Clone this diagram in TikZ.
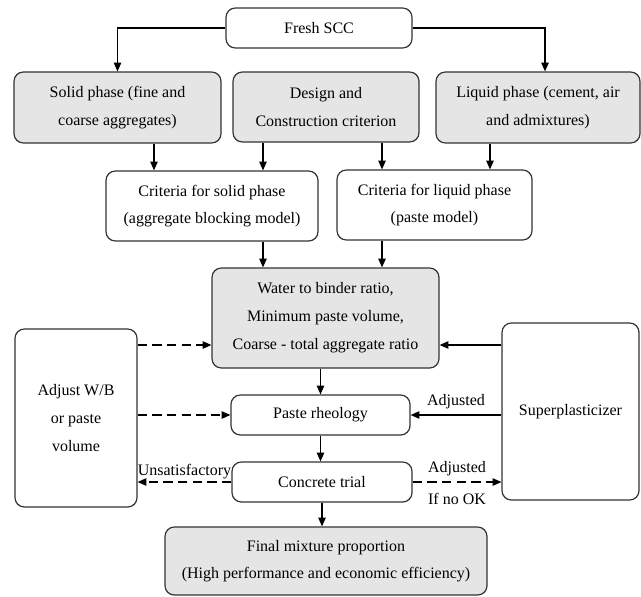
\documentclass[tikz,border=0pt]{standalone}
\usepackage{fontspec}
\setmainfont{Liberation Serif}
\usetikzlibrary{arrows.meta,positioning,calc}

\begin{document}
\begin{tikzpicture}[x=0.75pt,y=-0.75pt,
    box/.style={draw=black!80,line width=0.9pt,rounded corners=7pt,align=center,inner sep=0pt,font=\fontsize{12}{20.5}\selectfont},
    greybox/.style={box,fill=black!10},
    arr/.style={-{Triangle[length=6.5pt,width=5.5pt]},line width=0.9pt},
    darr/.style={arr,dash pattern=on 7pt off 4pt},
    lbl/.style={font=\fontsize{12}{14}\selectfont,inner sep=2pt}]
    \useasboundingbox (0,0) rectangle (641,596);

    % boxes
    \node[box,minimum width=139.5pt,minimum height=30pt]        (fresh)  at (319,28)    {Fresh SCC};
    \node[greybox,minimum width=155.25pt,minimum height=53.25pt] (solid)  at (117.5,107.5) {Solid phase (fine and\\coarse aggregates)};
    \node[greybox,minimum width=139.5pt,minimum height=52.5pt]   (design) at (326,107)  {Design and\\Construction criterion};
    \node[greybox,minimum width=153pt,minimum height=53.25pt]    (liquid) at (538,107.5) {Liquid phase (cement, air\\and admixtures)};
    \node[box,minimum width=159pt,minimum height=52.5pt]         (critS)  at (212,206)  {Criteria for solid phase\\(aggregate blocking model)};
    \node[box,minimum width=146.25pt,minimum height=52.5pt]      (critL)  at (434.5,205) {Criteria for liquid phase\\(paste model)};
    \node[greybox,minimum width=170.25pt,minimum height=75pt,font=\fontsize{12}{21}\selectfont] (water) at (325.5,318) {Water to binder ratio,\\Minimum paste volume,\\Coarse - total aggregate ratio};
    \node[box,minimum width=91.5pt,minimum height=133.5pt,font=\fontsize{12}{21}\selectfont] (adjust) at (76,418) {Adjust W/B\\or paste\\volume};
    \node[box,minimum width=134.25pt,minimum height=30pt]        (paste)  at (320.5,415) {Paste rheology};
    \node[box,minimum width=135pt,minimum height=30pt]           (trial)  at (322,482)  {Concrete trial};
    \node[greybox,minimum width=241.5pt,minimum height=51pt]     (final)  at (326,561)  {Final mixture proportion\\(High performance and economic efficiency)};
    \node[box,minimum width=102.75pt,minimum height=132.75pt]    (super)  at (570.5,411.5) {Superplasticizer};

    \coordinate (c1) at (154,0);
    \coordinate (c2) at (263,0);
    \coordinate (c3) at (382,0);
    \coordinate (c4) at (490,0);
    \coordinate (c5) at (545,0);
    \coordinate (r1) at (0,345);

    % top part
    \draw[arr] (fresh.west) -| (solid.north);
    \draw[arr] (fresh.east) -| (liquid.north -| c5);
    \draw[arr] (solid.south -| c1)  -- (critS.north -| c1);
    \draw[arr] (design.south -| c2) -- (critS.north -| c2);
    \draw[arr] (design.south -| c3) -- (critL.north -| c3);
    \draw[arr] (liquid.south -| c4) -- (critL.north -| c4);
    \draw[arr] (critS.south -| c2)  -- (water.north -| c2);
    \draw[arr] (critL.south -| c3)  -- (water.north -| c3);

    % middle loop
    \draw[arr]  (water.south -| paste.north) -- (paste.north);
    \draw[arr]  (paste.south) -- (paste.south |- trial.north);
    \draw[arr]  (trial.south) -- (trial.south |- final.north);
    \draw[darr] (adjust.east |- r1) -- (water.west |- r1);
    \draw[darr] (adjust.east |- paste.west) -- (paste.west);
    \draw[arr]  (super.west |- r1) -- (water.east |- r1);
    \draw[arr]  (super.west |- paste.east) -- (paste.east) node[lbl,midway,above,yshift=2pt] {Adjusted};
    \draw[darr] (trial.west) -- (adjust.east |- trial.west) node[lbl,midway,above] {Unsatisfactory};
    \draw[darr] (trial.east) -- (super.west |- trial.east) node[lbl,midway,above,yshift=2pt] {Adjusted} node[lbl,midway,below,yshift=-6pt] {If no OK};
\end{tikzpicture}
\end{document}
